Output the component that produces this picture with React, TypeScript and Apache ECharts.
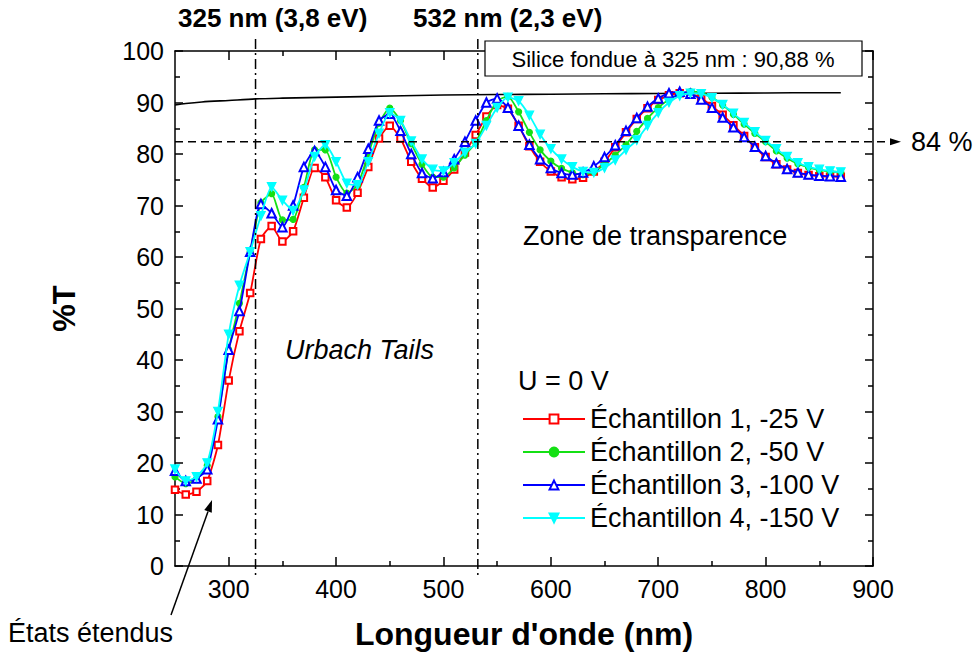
import React, { useEffect, useRef } from 'react';
import * as echarts from 'echarts';

const WAVELENGTHS = [
  250, 260, 270, 280, 290, 300, 310, 320, 330, 340, 350, 360, 370, 380, 390, 400,
  410, 420, 430, 440, 450, 460, 470, 480, 490, 500, 510, 520, 530, 540, 550, 560,
  570, 580, 590, 600, 610, 620, 630, 640, 650, 660, 670, 680, 690, 700, 710, 720,
  730, 740, 750, 760, 770, 780, 790, 800, 810, 820, 830, 840, 850, 860, 870,
];

const ECH1 = [
  14.8, 13.9, 14.4, 16.5, 23.5, 36, 45.6, 53, 63.5, 66, 63, 65, 71.5, 77.3, 75.5, 71,
  69.6, 72.5, 77.5, 83, 85.5, 83, 78.5, 75.2, 73.5, 74.8, 77, 80.3, 83.7, 87.3, 89.5, 88.8,
  85.5, 81.5, 78.5, 76.6, 75.5, 75.1, 75.4, 76.6, 78.5, 81.3, 84.2, 86.8, 88.9, 90.5, 91.4, 91.8,
  91.7, 90.8, 89.3, 87.6, 85.6, 83.5, 81.3, 79.4, 78, 77, 76.3, 75.9, 75.7, 75.6, 75.6,
];

const ECH2 = [
  17.3, 16, 16.8, 19.5, 29, 42, 51, 61, 70.5, 72.3, 67.2, 67.3, 73.5, 80.8, 80.8, 75.5,
  72.4, 74, 80, 86, 88.9, 86.5, 82, 78, 75.5, 75.5, 77.3, 79.8, 82.2, 86.5, 90.3, 91.2,
  88.2, 84.2, 80.8, 78.6, 77.2, 76.4, 76, 76.5, 78, 79.8, 81.8, 84.4, 86.9, 89, 90.6, 91.6,
  92.1, 91.9, 91, 89.5, 87.7, 85.8, 84, 82.4, 80.6, 79.2, 78.1, 77.4, 76.9, 76.6, 76.5,
];

const ECH3 = [
  18.5, 16.5, 17, 18.8, 28.5, 42, 49.5, 61, 70.3, 68.5, 65.8, 70, 77.5, 80.6, 77.5, 73,
  71.9, 75.5, 81, 86.5, 87.8, 84.5, 80, 76.3, 75.3, 76.5, 79, 82.4, 86.5, 90, 90.8, 89,
  85.5, 81.8, 79, 77.3, 76.3, 76, 76.4, 77.6, 79.4, 81.7, 84.5, 87, 89.2, 90.8, 91.8, 92.1,
  91.7, 90.6, 89, 87.1, 85.2, 83.3, 81.4, 79.6, 78.2, 77.1, 76.4, 76, 75.8, 75.7, 75.6,
];

const ECH4 = [
  18.8, 16.5, 17.3, 20, 30, 45, 54.5, 61, 68, 73.6, 71, 69, 73, 79.5, 81.8, 78.5,
  74.3, 74, 78.5, 84, 88, 86.5, 82.5, 79, 77, 76.7, 78.3, 80.3, 82, 85.5, 89, 91,
  90.3, 87.5, 83.8, 81, 79, 77.5, 76.6, 76.4, 77.3, 78.8, 80.8, 82.7, 85.5, 88, 90, 91.3,
  91.8, 91.7, 90.9, 89.6, 87.9, 86.1, 84.3, 82.6, 81, 79.5, 78.3, 77.5, 77, 76.7, 76.5,
];

const SILICE_WL = [250, 260, 275, 300, 325, 350, 375, 400, 450, 500, 550, 600, 650, 700, 750, 800, 850, 870];
const SILICE_T = [89.5, 89.8, 90.1, 90.4, 90.7, 90.85, 90.95, 91.05, 91.25, 91.45, 91.55, 91.6, 91.7, 91.75, 91.8, 91.85, 91.9, 91.9];

const SERIES_NAMES = [
  'Échantillon 1, -25 V',
  'Échantillon 2, -50 V',
  'Échantillon 3, -100 V',
  'Échantillon 4, -150 V',
];

const X_MAJOR = [300, 400, 500, 600, 700, 800, 900];
const X_MINOR = [350, 450, 550, 650, 750, 850];
const LASER_LINES = [325, 532];
const REF_LEVEL = 82.4;
const ARROW_TARGET = [284.5, 12.8];

const FONT = '"Liberation Sans", Arial, sans-serif';

export default function App() {
  const ref = useRef<HTMLDivElement>(null);

  useEffect(() => {
    const chart = echarts.init(ref.current as HTMLDivElement, null, { renderer: 'svg' });
    const pairs = (ys: number[]) => WAVELENGTHS.map((x, i) => [x, ys[i]]);

    const baseX = (position: 'bottom' | 'top', ticks: number[], len: number, showLine: boolean, showLabel: boolean) => ({
      type: 'value',
      min: 250,
      max: 900,
      position,
      axisLine: { show: showLine, lineStyle: { color: '#000', width: 1.5 } },
      axisTick: { show: true, inside: true, length: len, customValues: ticks, lineStyle: { color: '#000', width: 1.5 } },
      axisLabel: showLabel
        ? { show: true, customValues: X_MAJOR, color: '#000', fontSize: 25, fontFamily: FONT, margin: 10 }
        : { show: false },
      splitLine: { show: false },
    });

    const baseY = (position: 'left' | 'right', showLabel: boolean) => ({
      type: 'value',
      min: 0,
      max: 100,
      interval: 10,
      position,
      axisLine: { show: true, lineStyle: { color: '#000', width: 1.5 } },
      axisTick: { show: true, inside: true, length: 8, lineStyle: { color: '#000', width: 1.5 } },
      minorTick: { show: true, splitNumber: 2, length: 5, lineStyle: { color: '#000', width: 1.5 } },
      axisLabel: showLabel
        ? { show: true, color: '#000', fontSize: 25, fontFamily: FONT, margin: 11 }
        : { show: false },
      splitLine: { show: false },
    });

    const xBottom: any = baseX('bottom', X_MAJOR, 9, true, true);
    xBottom.name = "Longueur d'onde (nm)";
    xBottom.nameLocation = 'middle';
    xBottom.nameGap = 52;
    xBottom.nameTextStyle = { color: '#000', fontSize: 32, fontWeight: 'bold', fontFamily: FONT };

    const yLeft: any = baseY('left', true);
    yLeft.name = '%T';
    yLeft.nameLocation = 'middle';
    yLeft.nameGap = 95;
    yLeft.nameRotate = 90;
    yLeft.nameTextStyle = { color: '#000', fontSize: 31, fontWeight: 'bold', fontFamily: FONT };

    const colors = ['#ff0000', '#14e014', '#0000ff', '#00ffff'];
    const symbols = ['emptyRect', 'circle', 'emptyTriangle', 'triangle'];
    const sizes = [6.5, 6, 8.5, 8.5];
    const rotates = [0, 0, 0, 180];
    const datasets = [ECH1, ECH2, ECH3, ECH4];

    const sampleSeries = datasets.map((d, i) => ({
      name: SERIES_NAMES[i],
      type: 'line',
      data: pairs(d),
      xAxisIndex: 0,
      yAxisIndex: 0,
      symbol: symbols[i],
      symbolSize: sizes[i],
      symbolRotate: rotates[i],
      showSymbol: true,
      showAllSymbol: true,
      smooth: 0.2,
      color: colors[i],
      itemStyle: { color: colors[i], borderColor: colors[i], borderWidth: 1.2 },
      lineStyle: { color: colors[i], width: 1.8 },
      z: 3 + i,
    }));

    const option: any = {
      animation: false,
      backgroundColor: '#fff',
      grid: { left: 175, right: 101, top: 51, bottom: 96, containLabel: false },
      xAxis: [
        xBottom,
        baseX('bottom', X_MINOR, 5, false, false),
        baseX('top', X_MAJOR, 9, true, false),
        baseX('top', X_MINOR, 5, false, false),
      ],
      yAxis: [yLeft, baseY('right', false)],
      legend: {
        data: SERIES_NAMES,
        orient: 'vertical',
        left: 517,
        top: 399,
        itemWidth: 62,
        itemHeight: 11,
        itemGap: 3,
        textStyle: { color: '#000', fontSize: 27, lineHeight: 30, fontFamily: FONT },
        selectedMode: false,
      },
      series: [
        {
          name: 'Silice fondue',
          type: 'line',
          data: SILICE_WL.map((x, i) => [x, SILICE_T[i]]),
          xAxisIndex: 0,
          yAxisIndex: 0,
          symbol: 'none',
          showSymbol: false,
          smooth: 0.3,
          lineStyle: { color: '#000', width: 1.6 },
          itemStyle: { color: '#000' },
          z: 2,
        },
        ...sampleSeries,
      ],
    };

    chart.setOption(option);

    const p = (x: number, y: number) => chart.convertToPixel({ xAxisIndex: 0, yAxisIndex: 0 }, [x, y]) as number[];
    const topY = p(250, 100)[1];
    const botY = p(250, 0)[1];
    const leftX = p(250, 0)[0];
    const rightX = p(900, 0)[0];
    const refY = p(250, REF_LEVEL)[1];

    const graphics: any[] = [];

    LASER_LINES.forEach((wl) => {
      const x = p(wl, 0)[0];
      graphics.push({
        type: 'line',
        z: 10,
        shape: { x1: x, y1: topY - 12, x2: x, y2: botY + 12 },
        style: { stroke: '#000', lineWidth: 1.5, lineDash: [10, 4, 2, 4] },
      });
    });

    graphics.push({
      type: 'text', z: 10, x: 178, y: 18,
      style: { text: '325 nm (3,8 eV)', fill: '#000', fontSize: 26, fontWeight: 'bold', fontFamily: FONT, verticalAlign: 'middle' },
    });
    graphics.push({
      type: 'text', z: 10, x: 413, y: 18,
      style: { text: '532 nm (2,3 eV)', fill: '#000', fontSize: 26, fontWeight: 'bold', fontFamily: FONT, verticalAlign: 'middle' },
    });

    // reference level dashed line with arrow
    graphics.push({
      type: 'line', z: 10,
      shape: { x1: leftX, y1: refY, x2: rightX + 20, y2: refY },
      style: { stroke: '#000', lineWidth: 1.5, lineDash: [8, 5] },
    });
    graphics.push({
      type: 'polygon', z: 10,
      shape: { points: [[rightX + 28, refY], [rightX + 17, refY - 3.5], [rightX + 17, refY + 3.5]] },
      style: { fill: '#000' },
    });
    graphics.push({
      type: 'text', z: 10, x: rightX + 38, y: refY,
      style: { text: '84 %', fill: '#000', fontSize: 27, fontFamily: FONT, verticalAlign: 'middle' },
    });

    // silica box
    graphics.push({
      type: 'rect', z: 12,
      shape: { x: 485, y: 41, width: 377, height: 35 },
      style: { fill: '#fff', stroke: '#000', lineWidth: 1.2 },
    });
    graphics.push({
      type: 'text', z: 13, x: 673, y: 59,
      style: { text: 'Silice fondue à 325 nm : 90,88 %', fill: '#000', fontSize: 22, fontFamily: FONT, align: 'center', verticalAlign: 'middle' },
    });

    graphics.push({
      type: 'text', z: 10, x: 523, y: 236,
      style: { text: 'Zone de transparence', fill: '#000', fontSize: 27, fontFamily: FONT, verticalAlign: 'middle' },
    });
    graphics.push({
      type: 'text', z: 10, x: 285, y: 350,
      style: { text: 'Urbach Tails', fill: '#000', fontSize: 27, fontStyle: 'italic', fontFamily: FONT, verticalAlign: 'middle' },
    });
    graphics.push({
      type: 'text', z: 10, x: 518, y: 381,
      style: { text: 'U = 0 V', fill: '#000', fontSize: 27, fontFamily: FONT, verticalAlign: 'middle' },
    });

    // États étendus annotation
    graphics.push({
      type: 'text', z: 10, x: 8, y: 633,
      style: { text: 'États étendus', fill: '#000', fontSize: 27, fontFamily: FONT, verticalAlign: 'middle' },
    });
    const head = p(ARROW_TARGET[0], ARROW_TARGET[1]);
    const tail = [171, 615];
    const dx = head[0] - tail[0];
    const dy = head[1] - tail[1];
    const L = Math.sqrt(dx * dx + dy * dy);
    const ux = dx / L;
    const uy = dy / L;
    const nx = -uy;
    const ny = ux;
    const bx = head[0] - ux * 12;
    const by = head[1] - uy * 12;
    graphics.push({
      type: 'line', z: 10,
      shape: { x1: tail[0], y1: tail[1], x2: bx, y2: by },
      style: { stroke: '#000', lineWidth: 1.5 },
    });
    graphics.push({
      type: 'polygon', z: 10,
      shape: { points: [[head[0], head[1]], [bx + nx * 4, by + ny * 4], [bx - nx * 4, by - ny * 4]] },
      style: { fill: '#000' },
    });

    chart.setOption({ graphic: graphics });

    return () => chart.dispose();
  }, []);

  return (
    <div
      ref={ref}
      style={{ position: 'fixed', left: 0, top: 0, width: 974, height: 662, background: '#fff' }}
    />
  );
}
